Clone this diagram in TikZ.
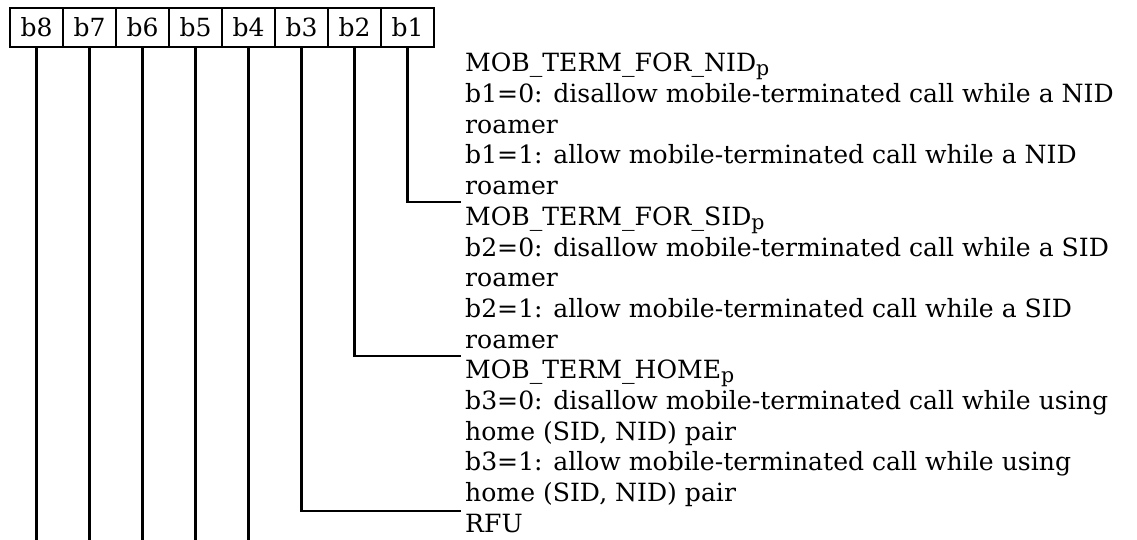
\documentclass[tikz,border=0pt]{standalone}
\usepackage{fontspec}
\setmainfont{DejaVu Serif}
\newcommand{\subp}{\raisebox{-4pt}{\fontsize{20.5}{24}\selectfont p}}
\begin{document}
\begin{tikzpicture}[x=1pt,y=-1pt,
  bitbox/.style={draw,line width=1.8pt,minimum width=53pt,minimum height=39pt,inner sep=0pt,font=\fontsize{25}{28}\selectfont},
  txt/.style={anchor=base west,inner sep=0pt,font=\fontsize{25.1}{28}\selectfont},
  wire/.style={line width=2.2pt}]
\useasboundingbox (0,0) rectangle (1137,540);
% bit boxes
\foreach \i/\lab in {0/b8,1/b7,2/b6,3/b5,4/b4,5/b3,6/b2,7/b1}{
  \node[bitbox] (\lab) at ({36.5+53*\i},27.5) {\lab};
}
% text lines
\node[txt] (t1)  at (465,72)    {MOB\_TERM\_FOR\_NID\subp};
\node[txt] (t2)  at (465,102.7) {b1=0: disallow mobile-terminated call while a NID};
\node[txt] (t3)  at (465,133.3) {roamer};
\node[txt] (t4)  at (465,164)   {b1=1: allow mobile-terminated call while a NID};
\node[txt] (t5)  at (465,194.7) {roamer};
\node[txt] (t6)  at (465,225.3) {MOB\_TERM\_FOR\_SID\subp};
\node[txt] (t7)  at (465,256)   {b2=0: disallow mobile-terminated call while a SID};
\node[txt] (t8)  at (465,286.7) {roamer};
\node[txt] (t9)  at (465,317.3) {b2=1: allow mobile-terminated call while a SID};
\node[txt] (t10) at (465,348)   {roamer};
\node[txt] (t11) at (465,378.7) {MOB\_TERM\_HOME\subp};
\node[txt] (t12) at (465,409.3) {b3=0: disallow mobile-terminated call while using};
\node[txt] (t13) at (465,440)   {home (SID, NID) pair};
\node[txt] (t14) at (465,470.7) {b3=1: allow mobile-terminated call while using};
\node[txt] (t15) at (465,501.3) {home (SID, NID) pair};
\node[txt] (t16) at (465,532)   {RFU};
% connector ends
\coordinate (e1) at (461,202);
\coordinate (e2) at (461,356);
\coordinate (e3) at (461,511);
\foreach \lab in {b4,b5,b6,b7,b8}{
  \coordinate (end\lab) at (\lab.south |- 0,540);
  \draw[wire] (\lab.south) -- (end\lab);
}
\draw[wire] (b1.south) |- (e1);
\draw[wire] (b2.south) |- (e2);
\draw[wire] (b3.south) |- (e3);
\end{tikzpicture}
\end{document}
